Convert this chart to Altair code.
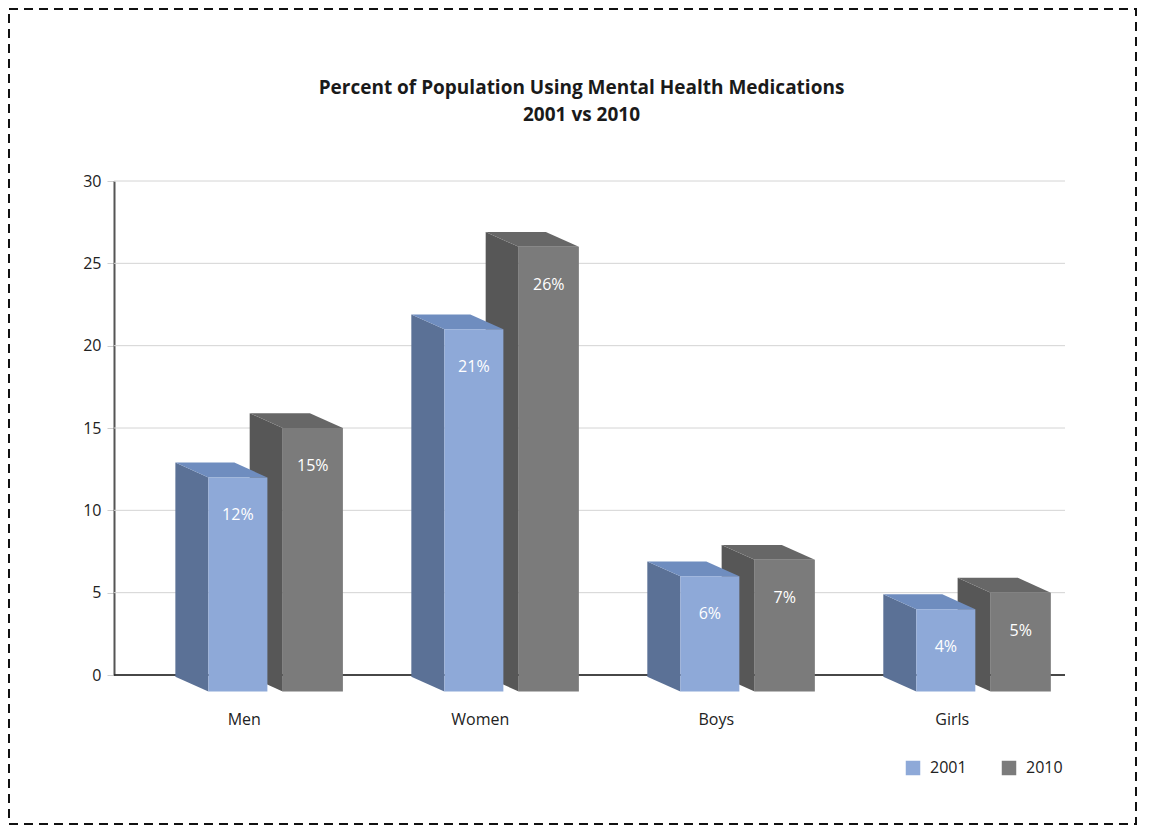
import json
import altair as alt
import pandas as pd

# ---- data ----
categories = ["Men", "Women", "Boys", "Girls"]
years = ["2001", "2010"]
values_2001 = [12, 21, 6, 4]
values_2010 = [15, 26, 7, 5]
y_ticks = [0, 5, 10, 15, 20, 25, 30]
title_lines = ["Percent of Population Using Mental Health Medications", "2001 vs 2010"]

# ---- style ----
front_colors = ["#8EA9D8", "#7B7B7B"]
side_colors = ["#5B7196", "#575757"]
top_colors = ["#6F8DBF", "#676767"]
FONT = "Open Sans"

# pseudo-3D geometry, in category units / value units
front_span = {"2001": (-0.15, 0.10), "2010": (0.165, 0.42)}
depth_x = 0.14
depth_y = 0.9
base = -1.0

fronts = []
polys = {"2001": [], "2010": []}
for yi, (yr, vals) in enumerate(zip(years, [values_2001, values_2010])):
    for ci, (cat, v) in enumerate(zip(categories, vals)):
        xl = ci + front_span[yr][0]
        xr = ci + front_span[yr][1]
        xs = xl - depth_x
        xbr = xr - depth_x
        fronts.append(dict(category=cat, year=yr, value=v, base=base,
                           x0=xl, x1=xr, xm=(xl + xr) / 2, label=f"{v}%"))
        pid = f"{cat}-{yr}"
        sc, tc = side_colors[yi], top_colors[yi]
        polys[yr] += [
            dict(poly=pid + "-side", x=xs, y=v + depth_y, y2=base + depth_y, fill=sc),
            dict(poly=pid + "-side", x=xl, y=v, y2=base, fill=sc),
            dict(poly=pid + "-top", x=xs, y=v + depth_y, y2=v + depth_y, fill=tc),
            dict(poly=pid + "-top", x=xl, y=v + depth_y, y2=v, fill=tc),
            dict(poly=pid + "-top", x=xbr, y=v + depth_y, y2=v, fill=tc),
            dict(poly=pid + "-top", x=xr, y=v, y2=v, fill=tc),
        ]

front_df = pd.DataFrame(fronts)
poly_2001 = pd.DataFrame(polys["2001"])
poly_2010 = pd.DataFrame(polys["2010"])

W, H = 951, 494
PAD = {"left": 106, "top": 173, "right": 72, "bottom": 150}

x_scale = alt.Scale(domain=[-0.55, 3.48], nice=False, zero=False)
y_scale = alt.Scale(domain=[0, 30], nice=False)

label_expr = json.dumps(categories) + "[datum.value]"

x_axis = alt.Axis(values=[0, 1, 2, 3], labelExpr=label_expr, title=None,
                  grid=False, ticks=False, domain=False,
                  labelFont=FONT, labelFontSize=16, labelColor="#222222",
                  labelPadding=36)
y_axis = alt.Axis(values=y_ticks, title=None, grid=False, domain=True,
                  domainColor="#555555", domainWidth=2,
                  ticks=True, tickSize=7, tickColor="#cfcfcf",
                  labelFont=FONT, labelFontSize=16, labelColor="#222222",
                  labelPadding=6)


def faces(df):
    return alt.Chart(df).mark_area(opacity=1).encode(
        x=alt.X("x:Q", scale=x_scale, axis=x_axis),
        y=alt.Y("y:Q", scale=y_scale, axis=y_axis),
        y2="y2:Q",
        detail="poly:N",
        color=alt.Color("fill:N", scale=None),
    )


grid = alt.Chart(pd.DataFrame({"t": y_ticks})).mark_rule(color="#d4d4d4", strokeWidth=1).encode(
    y=alt.Y("t:Q", scale=y_scale, axis=y_axis),
    x=alt.value(0), x2=alt.value(W),
)

front = alt.Chart(front_df).mark_rect().encode(
    x=alt.X("x0:Q", scale=x_scale, axis=x_axis),
    x2="x1:Q",
    y=alt.Y("value:Q", scale=y_scale, axis=y_axis),
    y2="base:Q",
    color=alt.Color("year:N", scale=alt.Scale(domain=years, range=front_colors),
                    legend=alt.Legend(title=None, orient="none", legendX=791, legendY=579,
                                      direction="horizontal", symbolType="square",
                                      symbolSize=210, symbolStrokeWidth=0,
                                      labelFont=FONT, labelFontSize=16,
                                      labelColor="#222222", columnPadding=34,
                                      labelOffset=9)),
)

xaxis_line = alt.Chart(pd.DataFrame({"z": [0]})).mark_rule(color="#111111", strokeWidth=1.6).encode(
    y=alt.Y("z:Q", scale=y_scale, axis=y_axis),
    x=alt.value(0), x2=alt.value(W),
)

labels = alt.Chart(front_df).mark_text(color="white", font=FONT, fontSize=16, dy=38).encode(
    x=alt.X("xm:Q", scale=x_scale, axis=x_axis),
    y=alt.Y("value:Q", scale=y_scale, axis=y_axis),
    text="label:N",
)

frame = alt.Chart(pd.DataFrame({"f": [0]})).mark_rect(
    fill=None, stroke="#111111", strokeWidth=2, strokeDash=[9, 6]
).encode(
    x=alt.value(-PAD["left"] + 1), x2=alt.value(W + PAD["right"] - 1),
    y=alt.value(-PAD["top"] + 1), y2=alt.value(H + PAD["bottom"] - 1),
)

chart = alt.layer(
    frame, grid, xaxis_line, faces(poly_2010), faces(poly_2001), front, labels
).properties(
    width=W, height=H,
    autosize=alt.AutoSizeParams(type="none"),
    padding=PAD,
    title=alt.TitleParams(text=title_lines, font=FONT, fontSize=19, fontWeight="bold",
                          color="#1a1a1a", anchor="middle", frame="group",
                          offset=-117, dx=-8, lineHeight=27),
).configure_view(stroke=None)

chart.save("out.html", embed_options={"renderer": "svg", "actions": False})
